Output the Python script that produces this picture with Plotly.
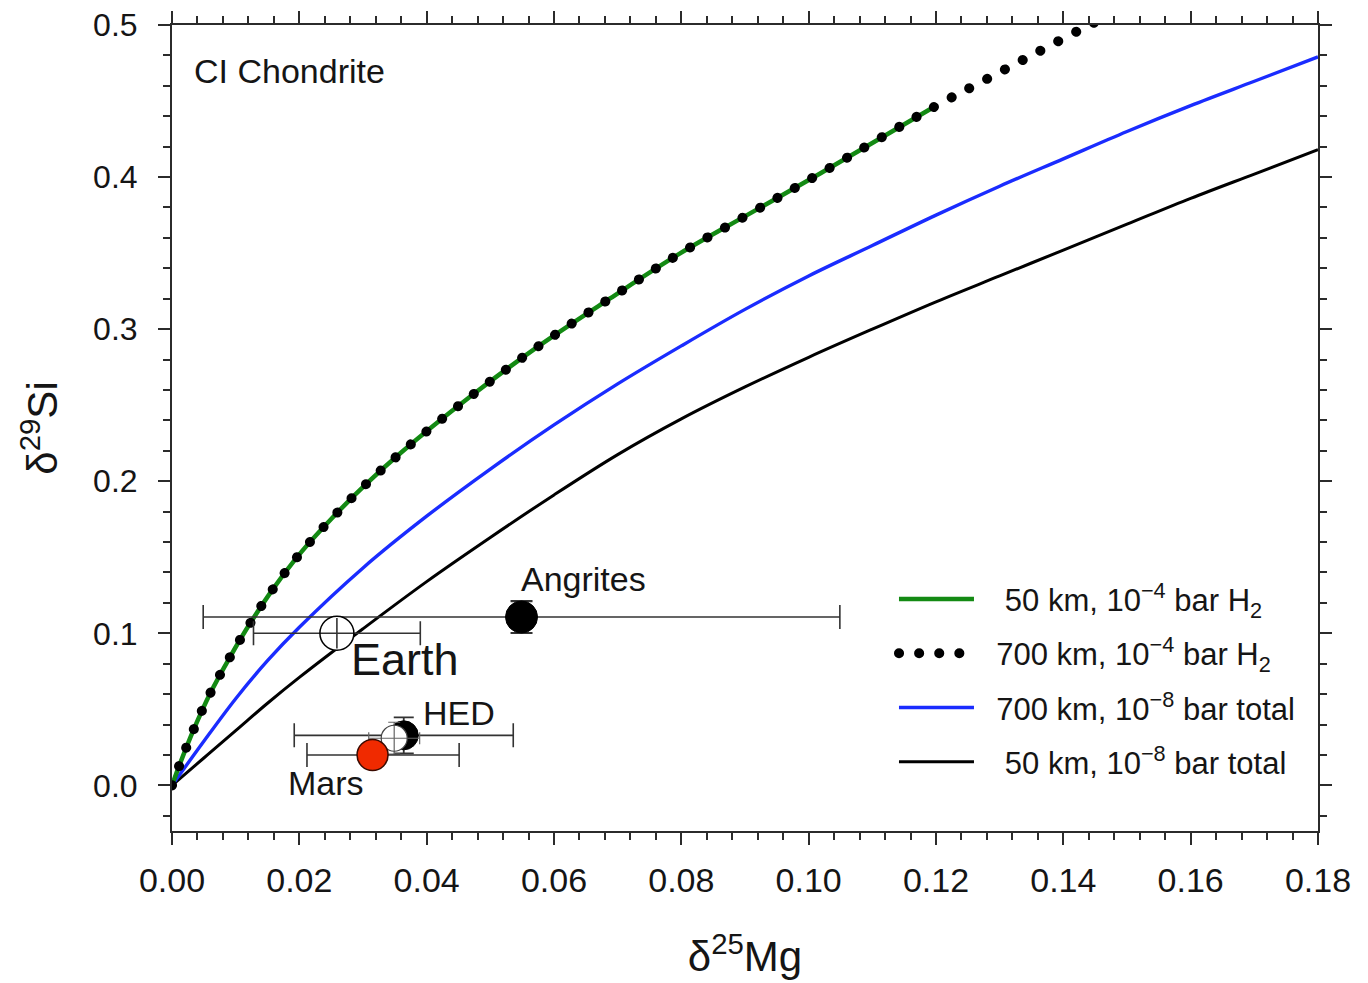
import plotly.graph_objects as go

# ---------------- data ----------------
# 50 km, 1e-4 bar H2 (green) and 700 km, 1e-4 bar H2 (dotted, extends further)
green_x = [0, 0.00126, 0.00335, 0.00597, 0.00911, 0.01225, 0.01591, 0.0201, 0.02508,
           0.03031, 0.03581, 0.04681, 0.0578, 0.0688, 0.0798, 0.0908, 0.1018, 0.1196]
green_y = [0, 0.0143, 0.0362, 0.0603, 0.0844, 0.1064, 0.1294, 0.1524, 0.1755,
           0.1974, 0.2182, 0.2555, 0.2895, 0.3202, 0.3498, 0.3761, 0.4024, 0.4459]
dot_x = green_x + [0.1274, 0.1353, 0.1431, 0.1470]
dot_y = green_y + [0.4632, 0.4807, 0.4979, 0.5060]
# 700 km, 1e-8 bar total (blue)
blue_x = [0, 0.005, 0.01, 0.015, 0.02, 0.03, 0.04, 0.05, 0.06, 0.07, 0.08, 0.09,
          0.10, 0.11, 0.12, 0.13, 0.14, 0.15, 0.16, 0.17, 0.18]
blue_y = [0, 0.029, 0.057, 0.082, 0.104, 0.143, 0.177, 0.208, 0.237, 0.264, 0.289,
          0.313, 0.335, 0.355, 0.375, 0.394, 0.412, 0.430, 0.447, 0.463, 0.479]
# 50 km, 1e-8 bar total (black)
black_x = [0, 0.005, 0.01, 0.015, 0.02, 0.03, 0.04, 0.05, 0.06, 0.07, 0.08, 0.09,
           0.10, 0.11, 0.12, 0.13, 0.14, 0.15, 0.16, 0.17, 0.18]
black_y = [0, 0.018, 0.036, 0.054, 0.071, 0.103, 0.134, 0.163, 0.191, 0.2175, 0.241,
           0.262, 0.2815, 0.300, 0.318, 0.335, 0.352, 0.369, 0.386, 0.402, 0.418]

# bodies
earth_x, earth_y, earth_ex, earth_ey = [0.0259], [0.100], [0.0131], [0.010]
angr_x, angr_y, angr_ex, angr_ey = [0.0549], [0.1107], [0.050], [0.0105]
hed_x, hed_y, hed_ex, hed_ey = [0.0364], [0.0329], [0.0172], [0.0118]
open_x, open_y, open_ex, open_ey = [0.0349], [0.0310], [0.0040], [0.0105]
mars_x, mars_y = [0.0315], [0.0200]
mars_ex_plus, mars_ex_minus = [0.0136], [0.0103]

NB = "\u00a0"
legend_names = [NB * 3 + "50 km, 10<sup>\u22124</sup> bar H<sub>2</sub>",
                NB * 2 + "700 km, 10<sup>\u22124</sup> bar H<sub>2</sub>",
                NB * 2 + "700 km, 10<sup>\u22128</sup> bar total",
                NB * 3 + "50 km, 10<sup>\u22128</sup> bar total"]

FONT = "Liberation Sans, Arial, sans-serif"
AX = "#2b2b2b"
EB = "#333333"
TXT = "#151515"

fig = go.Figure()

# curves (draw order: black, blue, green, dotted)
fig.add_trace(go.Scatter(x=black_x, y=black_y, mode="lines", name=legend_names[3],
                         line=dict(color="black", width=3, shape="spline"),
                         legendrank=4, legendgroup="d"))
fig.add_trace(go.Scatter(x=blue_x, y=blue_y, mode="lines", name=legend_names[2],
                         line=dict(color="#1a2cff", width=3.4, shape="spline"),
                         legendrank=3, legendgroup="c"))
fig.add_trace(go.Scatter(x=green_x, y=green_y, mode="lines", name=legend_names[0],
                         line=dict(color="#138a13", width=4.5, shape="spline"),
                         legendrank=1, legendgroup="a"))
fig.add_trace(go.Scatter(x=dot_x, y=dot_y, mode="lines", name=legend_names[1],
                         line=dict(color="rgb(0,0,1)", width=10, dash="0.1px,20px",
                                   shape="spline"),
                         legendrank=2, legendgroup="b"))

# Angrites
fig.add_trace(go.Scatter(x=angr_x, y=angr_y, mode="markers", showlegend=False,
                         marker=dict(size=32, color="black", line=dict(color="black", width=1)),
                         error_x=dict(type="data", array=angr_ex, color=EB, thickness=1.6, width=12),
                         error_y=dict(type="data", array=angr_ey, color=EB, thickness=2.2, width=11)))
# Earth: white fill below, crosshair + outline on top
fig.add_trace(go.Scatter(x=earth_x, y=earth_y, mode="markers", showlegend=False,
                         marker=dict(size=34, color="white", line=dict(width=0))))
fig.add_trace(go.Scatter(x=earth_x, y=earth_y, mode="markers", showlegend=False,
                         marker=dict(size=34, color="rgba(0,0,0,0)", line=dict(color="black", width=1.5)),
                         error_x=dict(type="data", array=earth_ex, color=EB, thickness=1.6, width=12),
                         error_y=dict(type="data", array=earth_ey, color=EB, thickness=1.6, width=0)))
# HED
fig.add_trace(go.Scatter(x=hed_x, y=hed_y, mode="markers", showlegend=False,
                         marker=dict(size=29, color="black", line=dict(color="black", width=1)),
                         error_x=dict(type="data", array=hed_ex, color=EB, thickness=1.6, width=12),
                         error_y=dict(type="data", array=hed_ey, color=EB, thickness=1.8, width=10)))
# open point overlapping HED
fig.add_trace(go.Scatter(x=open_x, y=open_y, mode="markers", showlegend=False,
                         marker=dict(size=26, color="white", line=dict(width=0))))
fig.add_trace(go.Scatter(x=open_x, y=open_y, mode="markers", showlegend=False,
                         marker=dict(size=26, color="rgba(0,0,0,0)", line=dict(color="#444", width=1.2)),
                         error_x=dict(type="data", array=open_ex, color="#666", thickness=1.2, width=6),
                         error_y=dict(type="data", array=open_ey, color="#666", thickness=1.2, width=6)))
# Mars
fig.add_trace(go.Scatter(x=mars_x, y=mars_y, mode="markers", showlegend=False,
                         marker=dict(size=31, color="#f02a00", line=dict(color="#3a0a00", width=1.5)),
                         error_x=dict(type="data", array=mars_ex_plus, arrayminus=mars_ex_minus,
                                      color=EB, thickness=1.6, width=12)))

ann_font = dict(family=FONT, color=TXT)
annotations = [
    dict(x=0.0031, y=0.470, text="CI Chondrite", xanchor="left", yanchor="middle",
         font=dict(size=34, **ann_font)),
    dict(x=0.0647, y=0.136, text="Angrites", xanchor="center", yanchor="middle",
         font=dict(size=34, **ann_font)),
    dict(x=0.0366, y=0.083, text="Earth", xanchor="center", yanchor="middle",
         font=dict(size=45, **ann_font)),
    dict(x=0.0450, y=0.0475, text="HED", xanchor="center", yanchor="middle",
         font=dict(size=34, **ann_font)),
    dict(x=0.0242, y=0.0015, text="Mars", xanchor="center", yanchor="middle",
         font=dict(size=34, **ann_font)),
]
for a in annotations:
    a.update(xref="x", yref="y", showarrow=False)

fig.update_layout(
    width=1368, height=983,
    margin=dict(l=172, r=50, t=25, b=152),
    paper_bgcolor="white", plot_bgcolor="white",
    font=dict(family=FONT, color=TXT),
    annotations=annotations,
    showlegend=True,
    legend=dict(x=0.63, y=0.321, xanchor="left", yanchor="top",
                bgcolor="rgba(0,0,0,0)", borderwidth=0,
                font=dict(size=31, family=FONT, color=TXT),
                itemwidth=75, tracegroupgap=11, traceorder="grouped"),
    xaxis=dict(range=[0, 0.18], dtick=0.02, tick0=0, tickformat=".2f", automargin=False,
               showgrid=False, zeroline=False, showline=True, linecolor=AX, linewidth=2,
               mirror="ticks", ticks="outside", ticklen=12, tickwidth=2, tickcolor=AX,
               ticklabelstandoff=6,
               tickfont=dict(size=34, family=FONT, color=TXT),
               minor=dict(dtick=0.004, tick0=0, ticks="outside", ticklen=7, tickwidth=2,
                          tickcolor=AX, showgrid=False),
               title=dict(text="\u03b4<sup>25</sup>Mg", font=dict(size=42, family=FONT, color=TXT),
                          standoff=44)),
    yaxis=dict(range=[-0.03, 0.5], dtick=0.1, tick0=0, tickformat=".1f", automargin=False,
               showgrid=False, zeroline=False, showline=True, linecolor=AX, linewidth=2,
               mirror="ticks", ticks="outside", ticklen=12, tickwidth=2, tickcolor=AX,
               ticklabelstandoff=14,
               tickfont=dict(size=32, family=FONT, color=TXT),
               minor=dict(dtick=0.02, tick0=0, ticks="outside", ticklen=7, tickwidth=2,
                          tickcolor=AX, showgrid=False),
               title=dict(text="\u03b4<sup>29</sup>Si", font=dict(size=42, family=FONT, color=TXT),
                          standoff=22)),
)

post = """
document.body.style.margin='0';
var s=document.createElement('style');
s.innerHTML='path.js-line[style*="rgb(0, 0, 1)"]{stroke-linecap:round !important;}';
document.head.appendChild(s);
"""
fig.write_html("out.html", post_script=post, config={"displayModeBar": False})
